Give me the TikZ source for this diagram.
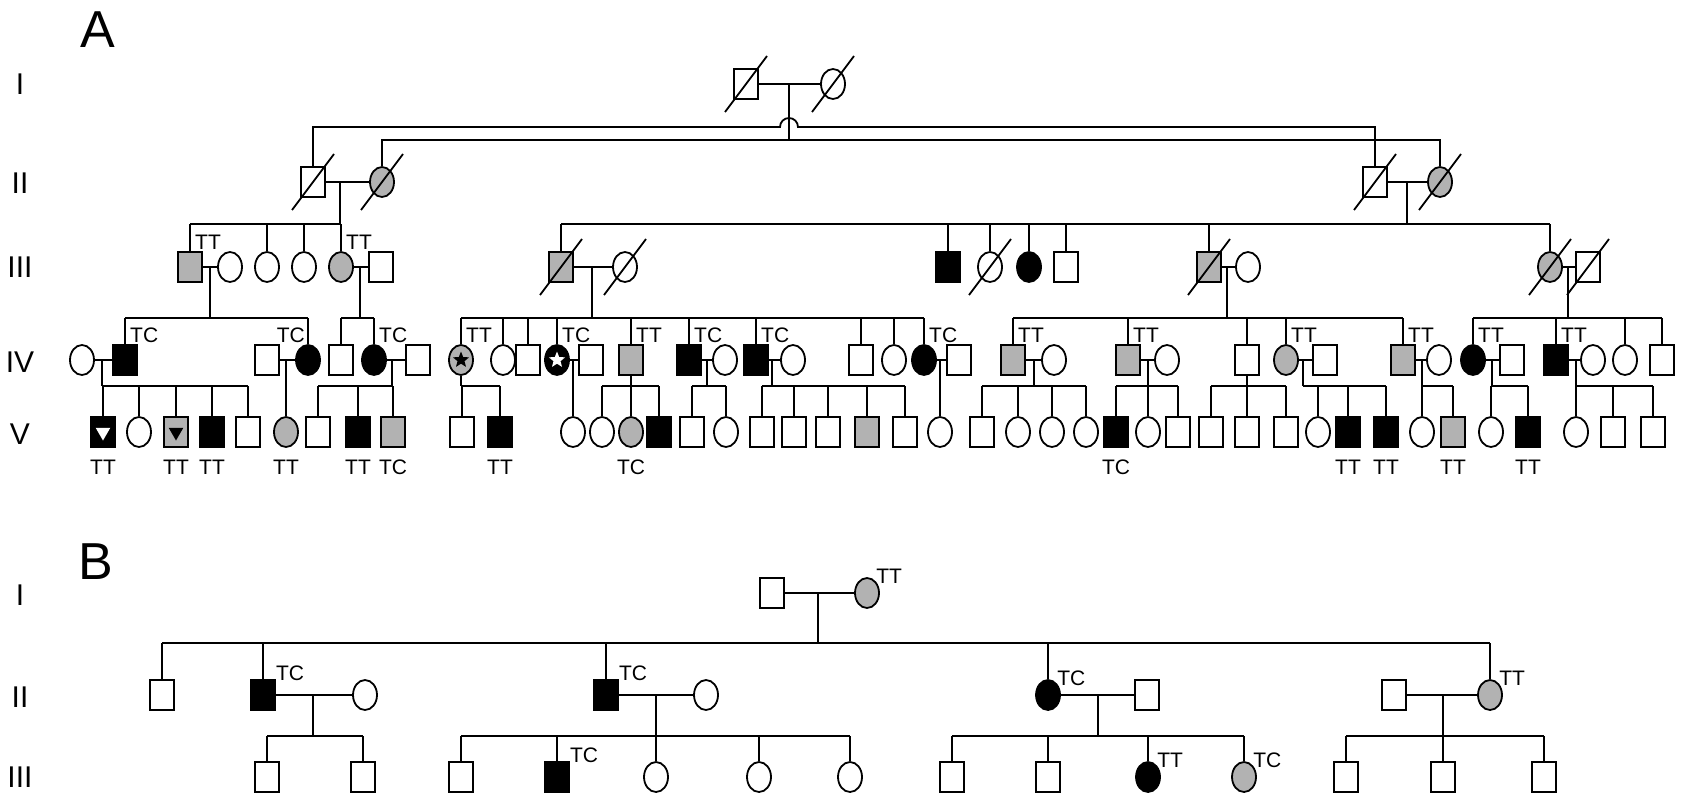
\documentclass[tikz,border=0pt]{standalone}
\usepackage{fontspec}
\setmainfont{Liberation Sans}
\usetikzlibrary{shapes.geometric,calc}
\tikzset{
 pp/.style={draw, line width=1.8, inner sep=0, minimum width=24, minimum height=30},
 sq/.style={pp, rectangle},
 ci/.style={pp, ellipse},
 af/.style={fill=black},
 sh/.style={fill=gray!60},
 ln/.style={line width=1.8},
 lab/.style={font=\fontsize{21}{21}\selectfont, inner sep=0},
 gen/.style={font=\fontsize{30}{30}\selectfont},
 pan/.style={font=\fontsize{52}{52}\selectfont},
 strb/.style={star, star points=5, star point ratio=2.3, minimum size=17, inner sep=0, fill=black},
 strw/.style={strb, fill=white},
 tri/.style={regular polygon, regular polygon sides=3, shape border rotate=180, minimum size=17, inner sep=0},
}
\newcommand\pdec[1]{\draw[ln] ($(#1)+(-21,28)$) -- ($(#1)+(21,-28)$);}
\newcommand\labT[2]{\node[lab, anchor=south west] at ($(#1.north)+(5,-1)$) {#2};}
\newcommand\labB[2]{\node[lab, anchor=north] at ($(#1.south)+(0,12)$) {#2};}
\newcommand\labR[2]{\node[lab, anchor=south west] at ($(#1.north east)+(0,2)$) {#2};}
\newcommand\cpl[2]{\draw[ln] (#1.east) -- (#2.west);}
% \pfam{junction}{sib y}{left}{right}{kids}
\newcommand\pfam[5]{%
 \draw[ln] (#1) -- (#1 |- 0,#2);
 \draw[ln] (#3 |- 0,#2) -- (#4 |- 0,#2);
 \foreach \k in {#5} {\draw[ln] (\k.north) -- (\k |- 0,#2);}}
\begin{document}
\begin{tikzpicture}[x=1pt,y=-1pt]
\useasboundingbox (0,0) rectangle (1681,800);
% panel labels
\node[pan] at (98,30) {A};
\node[pan] at (96,562) {B};
\node[gen] at (20,84) {I};
\node[gen] at (20,183) {II};
\node[gen] at (20,267) {III};
\node[gen] at (20,362) {IV};
\node[gen] at (20,434) {V};
\node[gen] at (20,595) {I};
\node[gen] at (20,697) {II};
\node[gen] at (20,777) {III};
% ===== A : generation I, II
\node[sq] (i1) at (746,84) {}; \node[ci] (i2) at (833,84) {};
\pdec{i1} \pdec{i2}
\cpl{i1}{i2}
\coordinate (jI) at (789,84);
\node[sq] (ii1) at (313,182) {}; \node[ci,sh] (ii2) at (382,182) {};
\node[sq] (ii3) at (1375,182) {}; \node[ci,sh] (ii4) at (1440,182) {};
\pdec{ii1} \pdec{ii2} \pdec{ii3} \pdec{ii4}
\cpl{ii1}{ii2} \cpl{ii3}{ii4}
\draw[ln] (jI) -- (jI |- 0,140);
\draw[ln] (ii2.north) -- (ii2 |- 0,140) -- (ii4 |- 0,140) -- (ii4.north);
\draw[ln] (ii1.north) -- (ii1 |- 0,127) -- (780,127) arc(180:360:9) -- (ii3 |- 0,127) -- (ii3.north);
% ===== generation III
\node[sq,sh] (a31) at (190,267) {}; \node[ci] (a32) at (230,267) {};
\node[ci] (a33) at (267,267) {}; \node[ci] (a34) at (304,267) {};
\node[ci,sh] (a35) at (341,267) {}; \node[sq] (a36) at (381,267) {};
\cpl{a31}{a32} \cpl{a35}{a36}
\labT{a31}{TT} \labT{a35}{TT}
\coordinate (jII1) at (340,182);
\pfam{jII1}{224}{a31}{jII1}{a31,a33,a34,a35}
\node[sq,sh] (b1) at (561,267) {}; \node[ci] (b1w) at (625,267) {};
\node[sq,af] (b2) at (948,267) {}; \node[ci] (b3) at (990,267) {};
\node[ci,af] (b4) at (1029,267) {}; \node[sq] (b5) at (1066,267) {};
\node[sq,sh] (b6) at (1209,267) {}; \node[ci] (b6w) at (1248,267) {};
\node[ci,sh] (b7) at (1550,267) {}; \node[sq] (b7h) at (1588,267) {};
\pdec{b1} \pdec{b1w} \pdec{b3} \pdec{b6} \pdec{b7} \pdec{b7h}
\cpl{b1}{b1w} \cpl{b6}{b6w} \cpl{b7}{b7h}
\coordinate (jII2) at (1407,182);
\pfam{jII2}{224}{b1}{b7}{b1,b2,b3,b4,b5,b6,b7}
% ===== generation IV
\node[ci] (c1w) at (82,360) {}; \node[sq,af] (c1) at (125,360) {};
\node[sq] (c2h) at (267,360) {}; \node[ci,af] (c2) at (308,360) {};
\node[sq] (c3) at (341,360) {}; \node[ci,af] (c4) at (374,360) {}; \node[sq] (c4h) at (418,360) {};
\cpl{c1w}{c1} \cpl{c2h}{c2} \cpl{c4}{c4h}
\labT{c1}{TC} \node[lab,anchor=south east] at ($(c2.north)+(-3,-1)$) {TC}; \labT{c4}{TC}
\coordinate (j31) at (210,267);
\pfam{j31}{318}{c1}{c2}{c1,c2}
\coordinate (j35) at (360,267);
\pfam{j35}{318}{c3}{c4}{c3,c4}
\node[ci,sh] (d1) at (461,360) {}; \node[strb] at (d1) {};
\node[ci] (d2) at (503,360) {}; \node[sq] (d3) at (528,360) {};
\node[ci,af] (d4) at (557,360) {}; \node[strw] at (d4) {}; \node[sq] (d4h) at (591,360) {};
\node[sq,sh] (d5) at (631,360) {};
\node[sq,af] (d6) at (689,360) {}; \node[ci] (d6w) at (725,360) {};
\node[sq,af] (d7) at (756,360) {}; \node[ci] (d7w) at (793,360) {};
\node[sq] (d8) at (861,360) {}; \node[ci] (d9) at (894,360) {};
\node[ci,af] (d10) at (924,360) {}; \node[sq] (d10h) at (959,360) {};
\cpl{d4}{d4h} \cpl{d6}{d6w} \cpl{d7}{d7w} \cpl{d10}{d10h}
\labT{d1}{TT} \labT{d4}{TC} \labT{d5}{TT} \labT{d6}{TC} \labT{d7}{TC} \labT{d10}{TC}
\coordinate (jb1) at (592,267);
\pfam{jb1}{318}{d1}{d10}{d1,d2,d3,d4,d5,d6,d7,d8,d9,d10}
\node[sq,sh] (e1) at (1013,360) {}; \node[ci] (e1w) at (1054,360) {};
\node[sq,sh] (e2) at (1128,360) {}; \node[ci] (e2w) at (1167,360) {};
\node[sq] (e3) at (1247,360) {};
\node[ci,sh] (e4) at (1286,360) {}; \node[sq] (e4h) at (1325,360) {};
\node[sq,sh] (e5) at (1403,360) {}; \node[ci] (e5w) at (1439,360) {};
\cpl{e1}{e1w} \cpl{e2}{e2w} \cpl{e4}{e4h} \cpl{e5}{e5w}
\labT{e1}{TT} \labT{e2}{TT} \labT{e4}{TT} \labT{e5}{TT}
\coordinate (jb6) at (1227,267);
\pfam{jb6}{318}{e1}{e5}{e1,e2,e3,e4,e5}
\node[ci,af] (f1) at (1473,360) {}; \node[sq] (f1h) at (1512,360) {};
\node[sq,af] (f2) at (1556,360) {}; \node[ci] (f2w) at (1593,360) {};
\node[ci] (f3) at (1625,360) {}; \node[sq] (f4) at (1662,360) {};
\cpl{f1}{f1h} \cpl{f2}{f2w}
\labT{f1}{TT} \labT{f2}{TT}
\coordinate (jb7) at (1568,267);
\pfam{jb7}{318}{f1}{f4}{f1,f2,f3,f4}
% ===== generation V
\node[sq,af] (v1) at (103,432) {}; \node[tri,fill=white] at (v1) {};
\node[ci] (v2) at (139,432) {};
\node[sq,sh] (v3) at (176,432) {}; \node[tri,fill=black] at (v3) {};
\node[sq,af] (v4) at (212,432) {}; \node[sq] (v5) at (248,432) {};
\coordinate (jc1) at (102,360);
\pfam{jc1}{386}{jc1}{v5}{v1,v2,v3,v4,v5}
\labB{v1}{TT} \labB{v3}{TT} \labB{v4}{TT}
\node[ci,sh] (v6) at (286,432) {}; \coordinate (jc2) at (286,360);
\draw[ln] (jc2) -- (v6.north); \labB{v6}{TT}
\node[sq] (v7) at (318,432) {}; \node[sq,af] (v8) at (358,432) {}; \node[sq,sh] (v9) at (393,432) {};
\coordinate (jc4) at (392,360);
\pfam{jc4}{386}{v7}{v9}{v7,v8,v9}
\labB{v8}{TT} \labB{v9}{TC}
\node[sq] (w1) at (462,432) {}; \node[sq,af] (w2) at (500,432) {};
\pfam{d1.south}{386}{d1}{w2}{w1,w2} \labB{w2}{TT}
\node[ci] (w3) at (573,432) {}; \coordinate (jd4) at (573,360);
\draw[ln] (jd4) -- (w3.north);
\node[ci] (w4) at (602,432) {}; \node[ci,sh] (w5) at (631,432) {}; \node[sq,af] (w6) at (659,432) {};
\pfam{d5.south}{386}{w4}{w6}{w4,w5,w6} \labB{w5}{TC}
\node[sq] (w7) at (692,432) {}; \node[ci] (w8) at (726,432) {};
\coordinate (jd6) at (707,360);
\pfam{jd6}{386}{w7}{w8}{w7,w8}
\node[sq] (w9) at (762,432) {}; \node[sq] (w10) at (794,432) {}; \node[sq] (w11) at (828,432) {};
\node[sq,sh] (w12) at (867,432) {}; \node[sq] (w13) at (905,432) {};
\coordinate (jd7) at (772,360);
\pfam{jd7}{386}{w9}{w13}{w9,w10,w11,w12,w13}
\node[ci] (w14) at (940,432) {}; \coordinate (jd10) at (940,360);
\draw[ln] (jd10) -- (w14.north);
\node[sq] (x1) at (982,432) {}; \node[ci] (x2) at (1018,432) {}; \node[ci] (x3) at (1052,432) {}; \node[ci] (x4) at (1086,432) {};
\coordinate (je1) at (1034,360);
\pfam{je1}{386}{x1}{x4}{x1,x2,x3,x4}
\node[sq,af] (x5) at (1116,432) {}; \node[ci] (x6) at (1148,432) {}; \node[sq] (x7) at (1178,432) {};
\coordinate (je2) at (1148,360);
\pfam{je2}{386}{x5}{x7}{x5,x6,x7} \labB{x5}{TC}
\node[sq] (x8) at (1211,432) {}; \node[sq] (x9) at (1247,432) {}; \node[sq] (x10) at (1286,432) {};
\pfam{e3.south}{386}{x8}{x10}{x8,x9,x10}
\node[ci] (x11) at (1318,432) {}; \node[sq,af] (x12) at (1348,432) {}; \node[sq,af] (x13) at (1386,432) {};
\coordinate (je4) at (1303,360);
\pfam{je4}{386}{je4}{x13}{x11,x12,x13} \labB{x12}{TT} \labB{x13}{TT}
\node[ci] (x14) at (1422,432) {}; \node[sq,sh] (x15) at (1453,432) {};
\coordinate (je5) at (1422,360);
\pfam{je5}{386}{x14}{x15}{x14,x15} \labB{x15}{TT}
\node[ci] (y1) at (1491,432) {}; \node[sq,af] (y2) at (1528,432) {};
\coordinate (jf1) at (1492,360);
\pfam{jf1}{386}{y1}{y2}{y1,y2} \labB{y2}{TT}
\node[ci] (y3) at (1576,432) {}; \node[sq] (y4) at (1613,432) {}; \node[sq] (y5) at (1653,432) {};
\coordinate (jf2) at (1576,360);
\pfam{jf2}{386}{y3}{y5}{y3,y4,y5}
% ===== B
\node[sq] (g1) at (772,593) {}; \node[ci,sh] (g2) at (867,593) {};
\cpl{g1}{g2} \labR{g2}{TT}
\coordinate (jg) at (818,593);
\node[sq] (h1) at (162,695) {};
\node[sq,af] (h2) at (263,695) {}; \node[ci] (h2w) at (365,695) {};
\node[sq,af] (h3) at (606,695) {}; \node[ci] (h3w) at (706,695) {};
\node[ci,af] (h4) at (1048,695) {}; \node[sq] (h4h) at (1147,695) {};
\node[sq] (h5h) at (1394,695) {}; \node[ci,sh] (h5) at (1490,695) {};
\cpl{h2}{h2w} \cpl{h3}{h3w} \cpl{h4}{h4h} \cpl{h5h}{h5}
\labR{h2}{TC} \labR{h3}{TC} \labR{h4}{TC} \labR{h5}{TT}
\pfam{jg}{643}{h1}{h5}{h1,h2,h3,h4,h5}
\node[sq] (k1) at (267,777) {}; \node[sq] (k2) at (363,777) {};
\coordinate (jh2) at (313,695);
\pfam{jh2}{736}{k1}{k2}{k1,k2}
\node[sq] (k3) at (461,777) {}; \node[sq,af] (k4) at (557,777) {};
\node[ci] (k5) at (656,777) {}; \node[ci] (k6) at (759,777) {}; \node[ci] (k7) at (850,777) {};
\coordinate (jh3) at (656,695);
\pfam{jh3}{736}{k3}{k7}{k3,k4,k5,k6,k7} \labR{k4}{TC}
\node[sq] (k8) at (952,777) {}; \node[sq] (k9) at (1048,777) {};
\node[ci,af] (k10) at (1148,777) {}; \node[ci,sh] (k11) at (1244,777) {};
\coordinate (jh4) at (1098,695);
\pfam{jh4}{736}{k8}{k11}{k8,k9,k10,k11} \labR{k10}{TT} \labR{k11}{TC}
\node[sq] (k12) at (1346,777) {}; \node[sq] (k13) at (1443,777) {}; \node[sq] (k14) at (1544,777) {};
\coordinate (jh5) at (1443,695);
\pfam{jh5}{736}{k12}{k14}{k12,k13,k14}
\end{tikzpicture}
\end{document}
